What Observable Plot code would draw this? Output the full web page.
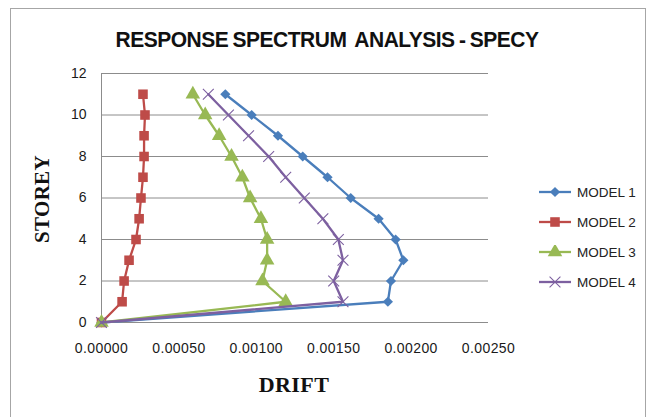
<!DOCTYPE html>
<html><head><meta charset="utf-8">
<script src="https://cdn.jsdelivr.net/npm/d3@7"></script>
<script src="https://cdn.jsdelivr.net/npm/@observablehq/plot@0.6"></script>
<style>
body{margin:0;background:#fff;}
#wrap{position:relative;width:657px;height:417px;overflow:hidden;background:#fff;font-family:"Liberation Sans",Arial,sans-serif;}
#frame{position:absolute;left:10px;top:8px;width:636px;height:420px;border:1px solid #a6a6a6;box-sizing:border-box;}
#title{position:absolute;left:0;width:654px;top:27px;text-align:center;font-weight:bold;font-size:21px;color:#111;letter-spacing:-0.5px;word-spacing:-1px;white-space:pre;transform:scaleY(1.08);}
#ylab{position:absolute;left:42px;top:199px;transform:translate(-50%,-50%) rotate(-90deg);font-family:"Liberation Serif","Times New Roman",serif;font-weight:bold;font-size:21px;color:#111;white-space:nowrap;letter-spacing:0.3px;}
#xlab{position:absolute;left:294px;top:385px;transform:translate(-50%,-50%);font-family:"Liberation Serif","Times New Roman",serif;font-weight:bold;font-size:22px;color:#111;letter-spacing:0.4px;}
#legend{position:absolute;left:538px;top:177px;}
.li{display:flex;align-items:center;height:30px;font-size:13.5px;color:#222;}
.li svg{margin-right:5px;}
#chart{position:absolute;left:0;top:0;}
</style></head><body>
<div id="wrap">
<div id="frame"></div>
<div id="chart"></div>
<div id="title">RESPONSE SPECTRUM  ANALYSIS - SPECY</div>
<div id="ylab">STOREY</div>
<div id="xlab">DRIFT</div>
<div id="legend"></div>
</div>
<script>
const storeys = [0, 1, 2, 3, 4, 5, 6, 7, 8, 9, 10, 11];
const model1 = [0, 0.00185, 0.00187, 0.00195, 0.00190, 0.00179, 0.00161, 0.00146, 0.00130, 0.00114, 0.00097, 0.00080];
const model2 = [0, 0.000133, 0.000146, 0.000178, 0.000223, 0.000243, 0.000255, 0.000268, 0.000275, 0.000275, 0.000281, 0.000268];
const model3 = [0, 0.00119, 0.00104, 0.00107, 0.00107, 0.00103, 0.00096, 0.00091, 0.00084, 0.00076, 0.00067, 0.00059];
const model4 = [0, 0.00156, 0.00150, 0.00156, 0.00153, 0.00143, 0.00131, 0.00119, 0.00108, 0.00095, 0.00082, 0.00069];
const seriesNames = ["MODEL 1", "MODEL 2", "MODEL 3", "MODEL 4"];
const colors = ["#4a7ebb", "#be4b48", "#98b954", "#7d60a0"];
const symbols = ["diamond2", "square", "triangle", "times"];
const xTicks = [0, 0.0005, 0.001, 0.0015, 0.002, 0.0025];
const yTicks = [0, 2, 4, 6, 8, 10, 12];

const allSeries = [model1, model2, model3, model4];
const rows = allSeries.flatMap((vals, i) => vals.map((v, j) => ({series: seriesNames[i], idx: i, drift: v, storey: storeys[j]})));

const marks = [
  Plot.gridY(yTicks, {stroke: "#8c8c8c", strokeOpacity: 1, strokeWidth: 1}),
  Plot.ruleX([0], {stroke: "#8c8c8c", strokeWidth: 1}),
];
const dotR = [4.6, 5.4, 5.4, 5.0];
seriesNames.forEach((name, i) => {
  const d = rows.filter(r => r.idx === i);
  marks.push(Plot.line(d, {x: "drift", y: "storey", stroke: colors[i], strokeWidth: 2.3, curve: "linear"}));
  if (symbols[i] === "times") {
    marks.push(Plot.dot(d, {x: "drift", y: "storey", symbol: symbols[i], r: dotR[i], stroke: colors[i], strokeWidth: 1.1, fill: "none"}));
  } else {
    marks.push(Plot.dot(d, {x: "drift", y: "storey", symbol: symbols[i], r: dotR[i], fill: colors[i], stroke: "none"}));
  }
});

const chart = Plot.plot({
  width: 657, height: 417,
  marginLeft: 101, marginRight: 169, marginTop: 73, marginBottom: 95,
  style: {background: "transparent", fontFamily: "'Liberation Sans', Arial, sans-serif", fontSize: "14px", color: "#1a1a1a"},
  x: {domain: [0, 0.0025], ticks: xTicks, tickFormat: d3.format(".5f"), tickSize: 0, tickPadding: 21, label: null},
  y: {domain: [0, 12], ticks: yTicks, tickSize: 0, tickPadding: 15, label: null},
  marks
});
chart.querySelectorAll("[aria-label='x-axis tick label'] text").forEach(t => t.setAttribute("letter-spacing", "0.4"));
document.getElementById("chart").appendChild(chart);

// legend
const leg = d3.select("#legend");
const symMap = {diamond2: d3.symbolDiamond2, square: d3.symbolSquare, triangle: d3.symbolTriangle, times: d3.symbolTimes};
seriesNames.forEach((name, i) => {
  const item = leg.append("div").attr("class", "li");
  const svg = item.append("svg").attr("width", 34).attr("height", 14);
  svg.append("line").attr("x1", 1).attr("x2", 33).attr("y1", 7).attr("y2", 7).attr("stroke", colors[i]).attr("stroke-width", 2.3);
  const p = svg.append("path").attr("transform", "translate(17,7)")
    .attr("d", d3.symbol(symMap[symbols[i]], Math.PI * dotR[i] * dotR[i])());
  if (symbols[i] === "times") p.attr("fill", "none").attr("stroke", colors[i]).attr("stroke-width", 1.1);
  else p.attr("fill", colors[i]);
  item.append("span").text(name);
});
</script>
</body></html>
